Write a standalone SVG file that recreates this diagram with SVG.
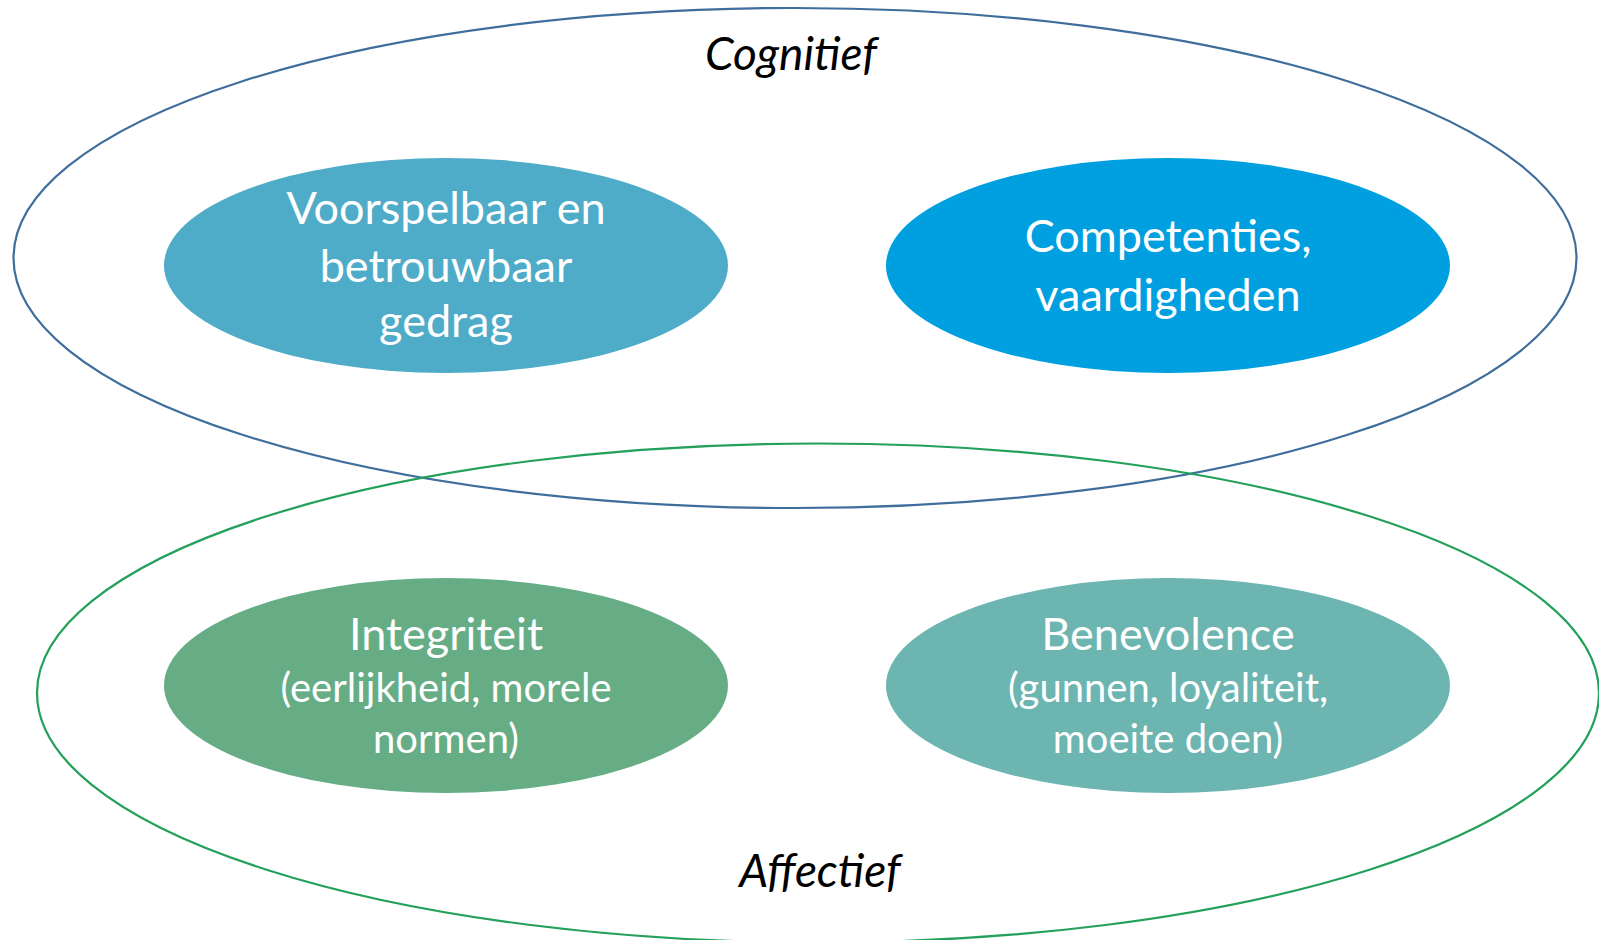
<svg xmlns="http://www.w3.org/2000/svg" width="1599" height="940" viewBox="0 0 1599 940">
<style>
.big{fill:none;stroke-width:2.2}
.t{font-family:Lato,"Liberation Sans",sans-serif;fill:#fff;text-anchor:middle}
.h{font-size:45px}
.s{font-size:40px}
.lab{font-family:Lato,"Liberation Sans",sans-serif;font-style:italic;font-size:46px;fill:#000;text-anchor:middle}
</style>
<rect width="1599" height="940" fill="#fff"/>
<g id="cognitief">
<ellipse class="big" cx="795" cy="258" rx="781.5" ry="250" stroke="#3F6E9D"/>
<text class="lab" x="791" y="70">Cognitief</text>
</g>
<g id="affectief">
<ellipse class="big" cx="818" cy="693" rx="781" ry="249.5" stroke="#23A05A"/>
<text class="lab" x="820" y="887">Affectief</text>
</g>
<g id="voorspelbaar">
<ellipse cx="446" cy="265.5" rx="282" ry="107.5" fill="#4FACC9"/>
<text class="t h"><tspan x="446" y="224">Voorspelbaar en</tspan><tspan x="446" y="281.5">betrouwbaar</tspan><tspan x="446" y="337">gedrag</tspan></text>
</g>
<g id="competenties">
<ellipse cx="1168" cy="265.5" rx="282" ry="107.5" fill="#009FE0"/>
<text class="t h"><tspan x="1168" y="252">Competenties,</tspan><tspan x="1168" y="310.5">vaardigheden</tspan></text>
</g>
<g id="integriteit">
<ellipse cx="446" cy="685.5" rx="282" ry="107.5" fill="#66AD86"/>
<text class="t"><tspan class="h" x="446" y="650">Integriteit</tspan><tspan class="s" x="446" y="701.5">(eerlijkheid, morele</tspan><tspan class="s" x="446" y="753">normen)</tspan></text>
</g>
<g id="benevolence">
<ellipse cx="1168" cy="685.5" rx="282" ry="107.5" fill="#6DB5B1"/>
<text class="t"><tspan class="h" x="1168" y="650">Benevolence</tspan><tspan class="s" x="1168" y="701.5">(gunnen, loyaliteit,</tspan><tspan class="s" x="1168" y="753">moeite doen)</tspan></text>
</g>
<g id="connectors"/>
</svg>
